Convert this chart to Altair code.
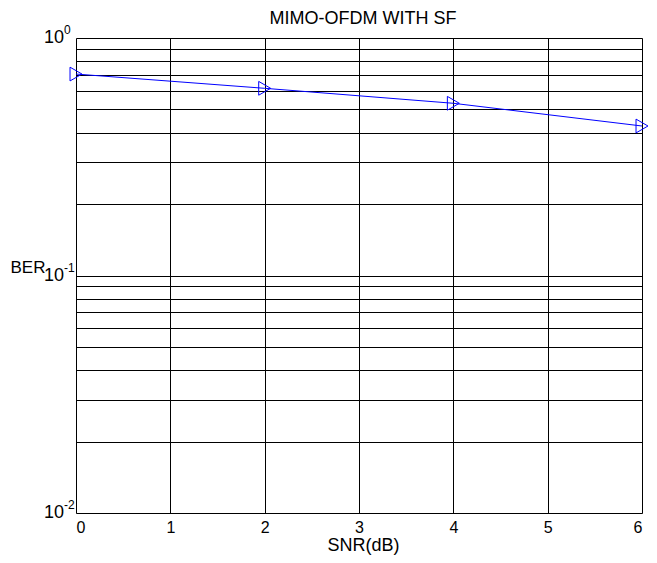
import altair as alt
import pandas as pd

# Data
snr = [0, 2, 4, 6]
ber = [0.705, 0.614, 0.531, 0.426]

x_ticks = [0, 1, 2, 3, 4, 5, 6]
y_grid = [0.01, 0.02, 0.03, 0.04, 0.05, 0.06, 0.07, 0.08, 0.09,
          0.1, 0.2, 0.3, 0.4, 0.5, 0.6, 0.7, 0.8, 0.9, 1.0]
y_label_vals = [1.0, 0.1, 0.01]
y_label_base = ["10", "10", "10"]
y_label_exp = ["0", "-1", "-2"]

FONT = "Liberation Sans"
BLUE = "#0000FF"
W, H = 566, 475

df = pd.DataFrame({"snr": snr, "ber": ber})
lab = pd.DataFrame({"ber": y_label_vals, "base": y_label_base, "exp": y_label_exp})

xscale = alt.Scale(domain=[0, 6], nice=False, zero=False)
yscale = alt.Scale(type="log", domain=[0.01, 1], nice=False)

x_axis = alt.Axis(
    values=x_ticks, format="d", grid=True, tickSize=0, domain=False,
    labelFontSize=16, labelPadding=6, labelFont=FONT, labelColor="black",
    title="SNR(dB)", titleFont=FONT, titleFontSize=18, titleFontWeight="normal",
    titleColor="black", titlePadding=1, titleX=W / 2 + 4, titleAlign="center",
    gridColor="black", gridWidth=1, gridOpacity=1,
)
y_axis = alt.Axis(
    values=y_grid, grid=True, labels=False, ticks=False, domain=False,
    title="BER", titleFont=FONT, titleFontSize=17, titleFontWeight="normal",
    titleColor="black", titleAngle=0, titleX=-31, titleY=229,
    titleAlign="right", titleBaseline="middle",
    gridColor="black", gridWidth=1, gridOpacity=1,
)

line = alt.Chart(df).mark_line(color=BLUE, strokeWidth=1).encode(
    x=alt.X("snr:Q", scale=xscale, axis=x_axis, title="SNR(dB)"),
    y=alt.Y("ber:Q", scale=yscale, axis=y_axis, title="BER"),
)
pts = alt.Chart(df).mark_point(
    shape="triangle-right", filled=False, color=BLUE, size=190, strokeWidth=1, opacity=1
).encode(
    x=alt.X("snr:Q", scale=xscale, axis=x_axis, title="SNR(dB)"),
    y=alt.Y("ber:Q", scale=yscale, axis=y_axis, title="BER"),
)

base_txt = alt.Chart(lab).mark_text(
    align="right", baseline="middle", fontSize=18, font=FONT, color="black"
).encode(x=alt.value(-12),
         y=alt.Y("ber:Q", scale=yscale, axis=y_axis, title="BER"),
         text="base:N")
exp_txt = alt.Chart(lab).mark_text(
    align="left", baseline="middle", fontSize=12, font=FONT, color="black", dy=-8
).encode(x=alt.value(-12),
         y=alt.Y("ber:Q", scale=yscale, axis=y_axis, title="BER"),
         text="exp:N")

chart = alt.layer(line, pts, base_txt, exp_txt).properties(
    width=W, height=H,
    title=alt.TitleParams("MIMO-OFDM WITH SF", font=FONT, fontSize=18,
                          fontWeight="normal", color="black", anchor="middle",
                          offset=0, dx=4, dy=4),
    autosize=alt.AutoSizeParams(type="none"),
    padding={"left": 68, "top": 30, "right": 7, "bottom": 42},
).configure_view(stroke="black", strokeWidth=1).configure(background="white")

chart.save("out.html", embed_options={"renderer": "svg", "actions": False})
